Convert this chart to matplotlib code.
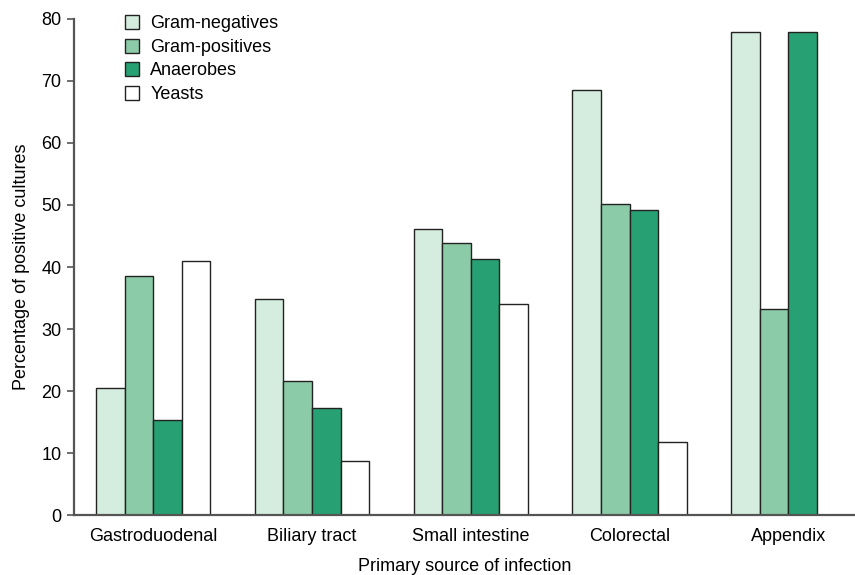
import numpy as np
import matplotlib.pyplot as plt

# data
sources = ["Gastroduodenal", "Biliary tract", "Small intestine", "Colorectal", "Appendix"]
gram_neg = [20.5, 34.8, 46.2, 68.6, 77.9]
gram_pos = [38.5, 21.6, 43.8, 50.1, 33.2]
anaerobes = [15.3, 17.3, 41.3, 49.2, 77.9]
yeasts = [41.0, 8.7, 34.0, 11.8, 0.0]

series = [
    ("Gram-negatives", gram_neg, "#d5eddf"),
    ("Gram-positives", gram_pos, "#8ccba8"),
    ("Anaerobes", anaerobes, "#27a173"),
    ("Yeasts", yeasts, "#ffffff"),
]

plt.rcParams["font.family"] = ["Liberation Sans", "DejaVu Sans"]
FS = 13

fig = plt.figure(figsize=(8.55, 5.75), dpi=100)
ax = fig.add_axes([0.0866, 0.1043, 0.9134, 0.8627])

x = np.arange(len(sources))
w = 0.18
for i, (name, vals, col) in enumerate(series):
    vals = np.array(vals)
    xs = x + (i - 1.5) * w
    mask = vals > 0
    ax.bar(xs[mask], vals[mask], width=w, color=col, edgecolor="#222222",
           linewidth=1.0, label=name)

ax.set_xlim(-0.498, 4.42)
ax.set_ylim(0, 80)
ax.set_yticks(np.arange(0, 81, 10))
ax.set_xticks(x)
ax.set_xticklabels(sources)
ax.tick_params(axis="x", length=0, pad=9, labelsize=FS)
ax.tick_params(axis="y", length=5, width=1.2, color="#555555", labelsize=FS, pad=4)

for s in ["top", "right"]:
    ax.spines[s].set_visible(False)
for s in ["left", "bottom"]:
    ax.spines[s].set_color("#555555")
    ax.spines[s].set_linewidth(1.6)

ax.set_xlabel("Primary source of infection", fontsize=FS, labelpad=10)
ax.set_ylabel("Percentage of positive cultures", fontsize=FS, labelpad=8)

ax.legend(loc="upper left", bbox_to_anchor=(0.056, 1.022), frameon=False,
          fontsize=FS, handlelength=0.8, handleheight=0.8, handletextpad=0.6,
          labelspacing=0.35, borderaxespad=0)

fig.savefig("out.png", dpi=100)
